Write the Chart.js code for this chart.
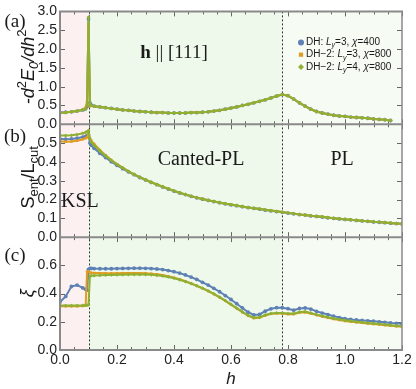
<!DOCTYPE html>
<html>
<head>
<meta charset="utf-8">
<script src="https://cdn.jsdelivr.net/npm/chart.js@4/dist/chart.umd.min.js"></script>
<style>
  html, body { margin: 0; padding: 0; background: #fff; }
  #wrap { width: 416px; height: 389px; }
</style>
</head>
<body>
<div id="wrap"><canvas id="chart" width="416" height="389"></canvas></div>
<script>
  // ========== DATA ==========
  const hValues = [0, 0.02, 0.04, 0.06, 0.08, 0.09, 0.095, 0.1, 0.105, 0.11,
    0.12, 0.14, 0.16, 0.18, 0.2, 0.22, 0.24, 0.26, 0.28, 0.3,
    0.32, 0.34, 0.36, 0.38, 0.4, 0.42, 0.44, 0.46, 0.48, 0.5,
    0.52, 0.54, 0.56, 0.58, 0.6, 0.62, 0.64, 0.66, 0.68, 0.7,
    0.72, 0.74, 0.76, 0.78, 0.8, 0.82, 0.84, 0.86, 0.88, 0.9,
    0.92, 0.94, 0.96, 0.98, 1.0, 1.02, 1.04, 1.06, 1.08, 1.1,
    1.12, 1.14, 1.16, 1.18, 1.2];

  const phaseEdges = [0.1, 0.78];

  const seriesNames = ['DH: Ly=3, χ=400', 'DH-2: Ly=3, χ=800', 'DH-2: Ly=4, χ=800'];

  // (a) -d2E0/dh2
  const d2E_DH = [0.31, 0.32, 0.33, 0.35, 0.38, 0.41, 0.47, 2.80, 0.57, 0.51,
    0.48, 0.46, 0.44, 0.42, 0.40, 0.38, 0.37, 0.35, 0.34, 0.33,
    0.32, 0.31, 0.31, 0.30, 0.30, 0.30, 0.30, 0.31, 0.31, 0.32,
    0.33, 0.35, 0.37, 0.40, 0.43, 0.46, 0.50, 0.53, 0.57, 0.61,
    0.65, 0.70, 0.75, 0.79, 0.76, 0.67, 0.57, 0.48, 0.40, 0.34,
    0.30, 0.27, 0.24, 0.22, 0.21, 0.19, 0.18, 0.17, 0.16, 0.14,
    0.13, 0.12, 0.10, null, null];
  const d2E_DH2_L3 = [0.30, 0.31, 0.33, 0.35, 0.39, 0.45, 0.62, 2.65, 0.48, 0.49,
    0.48, 0.46, 0.44, 0.42, 0.40, 0.38, 0.37, 0.35, 0.34, 0.33,
    0.32, 0.31, 0.31, 0.30, 0.30, 0.30, 0.30, 0.31, 0.31, 0.32,
    0.33, 0.35, 0.37, 0.40, 0.43, 0.46, 0.50, 0.53, 0.57, 0.61,
    0.65, 0.70, 0.75, 0.79, 0.76, 0.67, 0.57, 0.48, 0.40, 0.34,
    0.30, 0.27, 0.24, 0.22, 0.21, 0.19, 0.18, 0.17, 0.16, 0.14,
    0.13, 0.12, 0.10, null, null];
  const d2E_DH2_L4 = [0.30, 0.31, 0.33, 0.35, 0.38, 0.41, 0.50, 2.85, 0.53, 0.50,
    0.48, 0.46, 0.44, 0.42, 0.40, 0.38, 0.37, 0.35, 0.34, 0.33,
    0.32, 0.31, 0.31, 0.30, 0.30, 0.30, 0.30, 0.31, 0.31, 0.32,
    0.33, 0.35, 0.37, 0.40, 0.43, 0.46, 0.50, 0.53, 0.57, 0.61,
    0.65, 0.70, 0.75, 0.79, 0.76, 0.67, 0.57, 0.48, 0.40, 0.34,
    0.30, 0.27, 0.24, 0.22, 0.21, 0.19, 0.18, 0.17, 0.16, 0.14,
    0.13, 0.12, 0.10, null, null];

  // (b) S_ent / L_cut
  const sEnt_DH = [0.522, 0.521, 0.522, 0.526, 0.532, 0.536, 0.539, 0.543, 0.500, 0.488,
    0.472, 0.446, 0.423, 0.401, 0.382, 0.364, 0.347, 0.332, 0.317, 0.304,
    0.291, 0.279, 0.267, 0.256, 0.245, 0.235, 0.226, 0.217, 0.209, 0.202,
    0.195, 0.189, 0.183, 0.177, 0.172, 0.167, 0.162, 0.157, 0.153, 0.149,
    0.144, 0.140, 0.136, 0.132, 0.128, 0.124, 0.120, 0.117, 0.113, 0.110,
    0.107, 0.103, 0.100, 0.097, 0.094, 0.092, 0.089, 0.086, 0.084, 0.081,
    0.079, 0.077, 0.074, 0.072, 0.070];
  const sEnt_DH2_L3 = [0.508, 0.507, 0.508, 0.512, 0.520, 0.526, 0.531, 0.548, 0.525, 0.512,
    0.495, 0.463, 0.435, 0.410, 0.388, 0.369, 0.351, 0.334, 0.319, 0.305,
    0.292, 0.280, 0.268, 0.257, 0.246, 0.236, 0.227, 0.218, 0.210, 0.203,
    0.196, 0.190, 0.184, 0.178, 0.173, 0.168, 0.163, 0.158, 0.154, 0.150,
    0.145, 0.141, 0.137, 0.133, 0.129, 0.125, 0.121, 0.118, 0.114, 0.111,
    0.108, 0.104, 0.101, 0.098, 0.095, 0.093, 0.090, 0.087, 0.085, 0.082,
    0.080, 0.078, 0.075, 0.073, 0.071];
  const sEnt_DH2_L4 = [0.540, 0.540, 0.541, 0.545, 0.552, 0.557, 0.561, 0.567, 0.522, 0.505,
    0.488, 0.458, 0.432, 0.408, 0.387, 0.368, 0.350, 0.334, 0.319, 0.305,
    0.292, 0.280, 0.268, 0.257, 0.246, 0.236, 0.227, 0.218, 0.210, 0.203,
    0.196, 0.190, 0.184, 0.178, 0.173, 0.168, 0.163, 0.158, 0.154, 0.150,
    0.145, 0.141, 0.137, 0.133, 0.129, 0.125, 0.121, 0.118, 0.114, 0.111,
    0.108, 0.104, 0.101, 0.098, 0.095, 0.093, 0.090, 0.087, 0.085, 0.082,
    0.080, 0.078, 0.075, 0.073, 0.071];

  // (c) xi
  const xi_DH = [0.34, 0.38, 0.45, 0.46, 0.44, 0.43, 0.425, 0.572, 0.578, 0.578,
    0.577, 0.576, 0.576, 0.576, 0.577, 0.578, 0.579, 0.580, 0.580, 0.579,
    0.577, 0.574, 0.570, 0.563, 0.555, 0.545, 0.532, 0.517, 0.500, 0.480,
    0.460, 0.437, 0.413, 0.386, 0.358, 0.328, 0.298, 0.268, 0.248, 0.252,
    0.275, 0.292, 0.300, 0.300, 0.293, 0.282, 0.294, 0.298, 0.290, 0.274,
    0.262, 0.251, 0.240, 0.230, 0.222, 0.217, 0.213, 0.210, 0.207, 0.204,
    0.200, 0.196, 0.192, 0.189, 0.186];
  const xi_DH2_L3 = [0.31, 0.31, 0.31, 0.31, 0.312, 0.315, 0.555, 0.556, 0.550, 0.548,
    0.546, 0.545, 0.544, 0.544, 0.544, 0.545, 0.545, 0.545, 0.545, 0.544,
    0.541, 0.537, 0.531, 0.523, 0.513, 0.501, 0.487, 0.472, 0.455, 0.437,
    0.417, 0.396, 0.373, 0.348, 0.322, 0.295, 0.268, 0.243, 0.226, 0.228,
    0.245, 0.256, 0.260, 0.258, 0.254, 0.254, 0.266, 0.268, 0.259, 0.247,
    0.237, 0.228, 0.220, 0.212, 0.206, 0.200, 0.196, 0.192, 0.188, 0.184,
    0.180, 0.176, 0.172, 0.168, 0.164];
  const xi_DH2_L4 = [0.315, 0.315, 0.315, 0.315, 0.316, 0.318, 0.318, 0.320, 0.525, 0.527,
    0.528, 0.530, 0.531, 0.532, 0.533, 0.534, 0.535, 0.535, 0.535, 0.535,
    0.533, 0.530, 0.525, 0.518, 0.509, 0.498, 0.485, 0.471, 0.455, 0.438,
    0.419, 0.398, 0.375, 0.350, 0.324, 0.297, 0.270, 0.245, 0.230, 0.232,
    0.248, 0.258, 0.263, 0.262, 0.258, 0.258, 0.269, 0.272, 0.263, 0.251,
    0.241, 0.232, 0.224, 0.217, 0.211, 0.205, 0.200, 0.196, 0.192, 0.188,
    0.184, 0.180, 0.176, 0.172, 0.168];

  // ========== STYLE ==========
  const BLUE = '#5E81B5', ORANGE = '#E19C24', GREEN = '#8FB032';
  const SANS = "'Liberation Sans', Arial, sans-serif";
  const SERIF = "'Liberation Serif', 'Times New Roman', serif";

  function toPoints(arr) { return hValues.map((h, i) => ({ x: h, y: arr[i] })); }

  function makeSet(arr, color, style, axis) {
    return {
      data: toPoints(arr),
      yAxisID: axis,
      borderColor: color,
      backgroundColor: color,
      borderWidth: 2,
      pointStyle: style,
      pointRadius: style === 'rect' ? 1.7 : 1.9,
      pointBorderWidth: 0,
      pointBackgroundColor: color,
      tension: 0
    };
  }

  // green on top -> listed first
  const datasets = [
    makeSet(d2E_DH2_L4, GREEN, 'rectRot', 'ya'),
    makeSet(d2E_DH2_L3, ORANGE, 'rect', 'ya'),
    makeSet(d2E_DH, BLUE, 'circle', 'ya'),
    makeSet(sEnt_DH2_L4, GREEN, 'rectRot', 'yb'),
    makeSet(sEnt_DH2_L3, ORANGE, 'rect', 'yb'),
    makeSet(sEnt_DH, BLUE, 'circle', 'yb'),
    makeSet(xi_DH2_L4, GREEN, 'rectRot', 'yc'),
    makeSet(xi_DH2_L3, ORANGE, 'rect', 'yc'),
    makeSet(xi_DH, BLUE, 'circle', 'yc')
  ];

  // text made of runs (italic / sub / sup pieces)
  function runFont(r, size, family) {
    const sz = (r.sub || r.sup) ? Math.round(size * 0.7) : size;
    return (r.it ? 'italic ' : '') + (r.b ? 'bold ' : '') + sz + 'px ' + family;
  }
  function drawRuns(ctx, runs, x, y, size, family, align) {
    let total = 0;
    runs.forEach(r => { ctx.font = runFont(r, size, family); total += ctx.measureText(r.t).width; });
    let cx = align === 'center' ? x - total / 2 : x;
    runs.forEach(r => {
      ctx.font = runFont(r, size, family);
      const dy = r.sub ? size * 0.3 : (r.sup ? -size * 0.38 : 0);
      ctx.fillText(r.t, cx, y + dy);
      cx += ctx.measureText(r.t).width;
    });
  }
  function drawRotated(ctx, runs, x, y, size, family) {
    ctx.save();
    ctx.translate(x, y);
    ctx.rotate(-Math.PI / 2);
    drawRuns(ctx, runs, 0, 0, size, family, 'center');
    ctx.restore();
  }

  const panelDecor = {
    id: 'panelDecor',
    beforeDatasetsDraw(chart) {
      const { ctx, chartArea, scales } = chart;
      const xs = scales.x;
      const xa = xs.getPixelForValue(0);
      const xb = xs.getPixelForValue(phaseEdges[0]);
      const xc = xs.getPixelForValue(phaseEdges[1]);
      const xd = xs.getPixelForValue(1.2);
      const top = chartArea.top, h = chartArea.bottom - chartArea.top;
      ctx.save();
      ctx.fillStyle = '#fdf0f0'; ctx.fillRect(xa, top, xb - xa, h);
      ctx.fillStyle = '#eef8eb'; ctx.fillRect(xb, top, xc - xb, h);
      ctx.fillStyle = '#f6fbf4'; ctx.fillRect(xc, top, xd - xc, h);

      // minor ticks on panel edges
      ctx.strokeStyle = '#666';
      ctx.lineWidth = 1;
      ctx.beginPath();
      ['ya', 'yb', 'yc'].forEach(id => {
        const s = scales[id];
        for (let k = 0; k <= 24; k++) {
          const px = Math.round(xs.getPixelForValue(k * 0.05)) + 0.5;
          const len = k % 4 === 0 ? 5 : 3;
          ctx.moveTo(px, s.bottom); ctx.lineTo(px, s.bottom - len);
          ctx.moveTo(px, s.top); ctx.lineTo(px, s.top + len);
        }
        s.ticks.forEach(t => {
          const py = Math.round(s.getPixelForValue(t.value)) + 0.5;
          ctx.moveTo(xa, py); ctx.lineTo(xa + 5, py);
          ctx.moveTo(xd, py); ctx.lineTo(xd - 5, py);
        });
      });
      ctx.stroke();

      // phase boundaries
      ctx.strokeStyle = '#333';
      ctx.setLineDash([2, 2]);
      ctx.beginPath();
      [xb, xc].forEach(px => {
        ctx.moveTo(Math.round(px) + 0.5, top);
        ctx.lineTo(Math.round(px) + 0.5, chartArea.bottom);
      });
      ctx.stroke();
      ctx.restore();
    },
    afterDatasetsDraw(chart) {
      const { ctx, scales } = chart;
      const xs = scales.x, ya = scales.ya, yb = scales.yb, yc = scales.yc;
      const left = xs.left, right = xs.right;
      ctx.save();
      // frame
      ctx.strokeStyle = '#8a8a8a';
      ctx.lineWidth = 2;
      ctx.beginPath();
      [ya.top, ya.bottom, yb.bottom, yc.bottom].forEach(py => { ctx.moveTo(left - 1, py); ctx.lineTo(right + 1, py); });
      ctx.moveTo(left, ya.top); ctx.lineTo(left, yc.bottom);
      ctx.stroke();
      ctx.lineWidth = 1.5;
      ctx.beginPath();
      ctx.moveTo(right, ya.top); ctx.lineTo(right, yc.bottom);
      ctx.stroke();

      // in-plot text
      ctx.fillStyle = '#1a1a1a';
      ctx.textBaseline = 'middle';
      drawRuns(ctx, [{ t: 'h', b: true }, { t: ' || [111]' }], xs.getPixelForValue(0.4), ya.getPixelForValue(1.9), 19, SERIF, 'center');
      drawRuns(ctx, [{ t: 'Canted-PL' }], xs.getPixelForValue(0.495), yb.getPixelForValue(0.41), 20, SERIF, 'center');
      drawRuns(ctx, [{ t: 'PL' }], xs.getPixelForValue(0.99), yb.getPixelForValue(0.41), 20, SERIF, 'center');
      drawRuns(ctx, [{ t: 'KSL' }], xs.getPixelForValue(0.07), yb.getPixelForValue(0.19), 20, SERIF, 'center');

      // legend
      const colors = [BLUE, ORANGE, GREEN];
      const styles = ['circle', 'rect', 'rectRot'];
      const legendRuns = [
        [{ t: 'DH: ' }, { t: 'L', it: true }, { t: 'y', it: true, sub: true }, { t: '=3, ' }, { t: 'χ', it: true }, { t: '=400' }],
        [{ t: 'DH−2: ' }, { t: 'L', it: true }, { t: 'y', it: true, sub: true }, { t: '=3, ' }, { t: 'χ', it: true }, { t: '=800' }],
        [{ t: 'DH−2: ' }, { t: 'L', it: true }, { t: 'y', it: true, sub: true }, { t: '=4, ' }, { t: 'χ', it: true }, { t: '=800' }]
      ];
      legendRuns.forEach((runs, i) => {
        const ly = ya.top + 31 + i * 12.3;
        ctx.fillStyle = colors[i];
        Chart.helpers.drawPoint(ctx, { pointStyle: styles[i], radius: 3, borderWidth: 0 }, 301, ly);
        ctx.fillStyle = '#1a1a1a';
        drawRuns(ctx, runs, 306, ly, 10, SANS, 'left');
      });
      ctx.restore();
    },
    afterDraw(chart) {
      const { ctx, scales } = chart;
      const ya = scales.ya, yb = scales.yb, yc = scales.yc;
      ctx.save();
      ctx.fillStyle = '#1a1a1a';
      ctx.textBaseline = 'middle';
      // panel tags
      drawRuns(ctx, [{ t: '(a)' }], 15, ya.top + 11, 19, SERIF, 'center');
      drawRuns(ctx, [{ t: '(b)' }], 15, yb.top + 13, 19, SERIF, 'center');
      drawRuns(ctx, [{ t: '(c)' }], 15, yc.top + 19, 19, SERIF, 'center');
      // y titles
      drawRotated(ctx, [{ t: '-d', it: true }, { t: '2', sup: true }, { t: 'E', it: true }, { t: '0', it: true, sub: true }, { t: '/dh', it: true }, { t: '2', sup: true }], 29, (ya.top + ya.bottom) / 2 - 1, 18, SANS);
      drawRotated(ctx, [{ t: 'S' }, { t: 'ent', sub: true }, { t: '/L' }, { t: 'cut', sub: true }], 29, yb.top + 53, 18, SANS);
      drawRotated(ctx, [{ t: 'ξ', it: true }], 28, yc.top + 56, 18, SANS);
      // x title
      drawRuns(ctx, [{ t: 'h', it: true }], scales.x.getPixelForValue(0.6), 379, 17, SANS, 'center');
      ctx.restore();
    }
  };

  function yScale(max, step) {
    return {
      type: 'linear',
      position: 'left',
      stack: 'panels',
      stackWeight: 1,
      min: 0,
      max: max,
      grid: { display: false, drawTicks: false },
      border: { display: false },
      ticks: {
        stepSize: step,
        autoSkip: false,
        padding: 3,
        color: '#222',
        font: { family: SANS, size: 14 },
        callback: v => (Math.abs(v - max) < 1e-6 && max < 1) ? '' : v.toFixed(1)
      },
      afterFit(scale) { scale.width = 60; }
    };
  }

  new Chart(document.getElementById('chart').getContext('2d'), {
    type: 'line',
    data: { datasets },
    options: {
      responsive: false,
      animation: false,
      events: [],
      layout: { padding: { top: 7, right: 14, left: 0, bottom: 0 } },
      plugins: { legend: { display: false }, tooltip: { enabled: false } },
      scales: {
        x: {
          type: 'linear',
          min: 0,
          max: 1.2,
          grid: { display: false, drawTicks: false },
          border: { display: false },
          ticks: {
            stepSize: 0.2,
            padding: 2,
            color: '#222',
            font: { family: SANS, size: 14 },
            callback: v => v.toFixed(1)
          },
          afterFit(scale) { scale.height = 39; }
        },
        yc: yScale(0.8, 0.2),
        yb: yScale(0.6, 0.1),
        ya: yScale(3, 0.5)
      }
    },
    plugins: [panelDecor]
  });
</script>
</body>
</html>
